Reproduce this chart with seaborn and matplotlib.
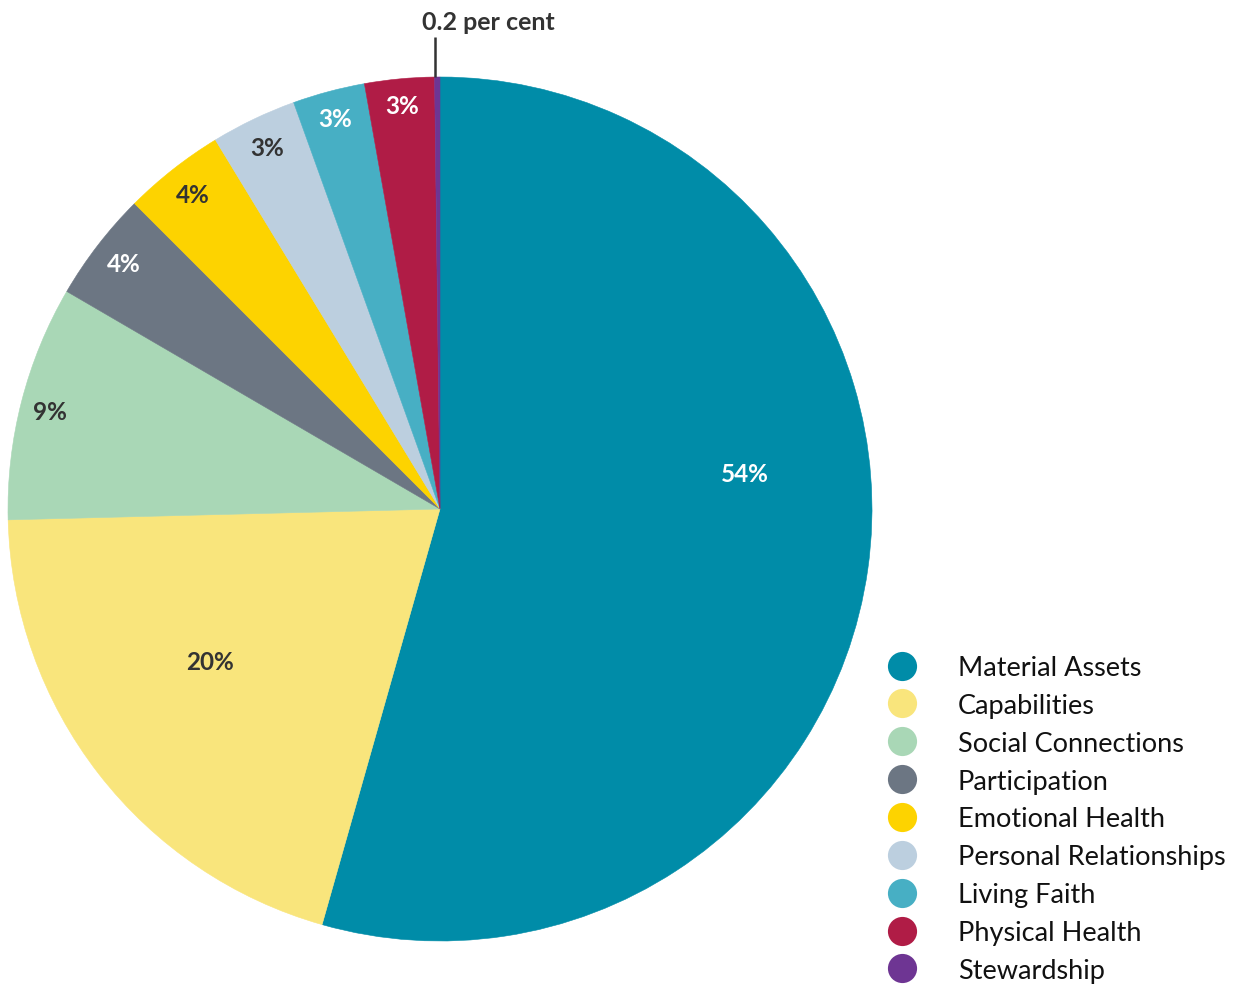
import matplotlib
matplotlib.use("Agg")
import matplotlib.pyplot as plt
from matplotlib.lines import Line2D
import numpy as np
import seaborn as sns

# Share of total by domain (per cent)
categories = ["Material Assets", "Capabilities", "Social Connections", "Participation",
              "Emotional Health", "Personal Relationships", "Living Faith",
              "Physical Health", "Stewardship"]
shares = [54.4, 20.2, 8.8, 4.1, 3.8, 3.2, 2.7, 2.6, 0.2]
palette = ["#008ca8", "#f9e57c", "#a9d7b6", "#6c7683", "#fdd300",
           "#bccfdf", "#47afc4", "#b01c46", "#6e3593"]
label_colors = ["white", "#333333", "#333333", "white", "#333333",
                "#333333", "white", "white", None]
# label anchor points in pie units (centre at 0,0, radius 1)
label_xy = [(0.706, 0.083), (-0.532, -0.352), (-0.903, 0.225), (-0.731, 0.569),
            (-0.572, 0.729), (-0.400, 0.836), (-0.243, 0.903), (-0.088, 0.933), None]

sns.set_theme(style="white")
plt.rcParams["font.family"] = ["Lato", "DejaVu Sans"]

W, H = 1235, 987
cx, cy, R = 440, 510, 432
fig = plt.figure(figsize=(W / 100, H / 100), dpi=100)
ax = fig.add_axes([0, 0, 1, 1])

wedges, _ = ax.pie(shares, colors=palette, startangle=90, counterclock=False,
                   radius=1, wedgeprops=dict(linewidth=0.4))
for w in wedges:
    w.set_edgecolor(w.get_facecolor())

ax.set_aspect("auto")
ax.set_xlim(-cx / R, (W - cx) / R)
ax.set_ylim(-(H - cy) / R, cy / R)
ax.axis("off")

for val, xy, col in zip(shares, label_xy, label_colors):
    if xy is None:
        continue
    ax.text(xy[0], xy[1], f"{val:.0f}%", ha="center", va="center",
            fontsize=17.5, fontweight="bold", color=col)

# callout for the smallest slice
small = wedges[-1]
mid = (small.theta1 + small.theta2) / 2
tx = np.cos(np.radians(mid))
ax.plot([tx - 0.006, tx - 0.006], [1.0, 1.093], color="#333333", lw=1.8,
        solid_capstyle="butt")
ax.text(tx + 0.118, 1.128, f"{shares[-1]:g} per cent", ha="center", va="center",
        fontsize=18, fontweight="bold", color="#333333")

handles = [Line2D([0], [0], marker="o", linestyle="none", markersize=21,
                  markerfacecolor=c, markeredgecolor="none") for c in palette]
ax.legend(handles, categories, loc="upper left", bbox_to_anchor=(875 / W, 1 - 656 / H),
          bbox_transform=fig.transFigure, frameon=False, fontsize=19.5,
          labelspacing=0.475, handletextpad=1.06, borderaxespad=0, borderpad=0,
          labelcolor="#111111")

fig.savefig("out.png", dpi=100)
